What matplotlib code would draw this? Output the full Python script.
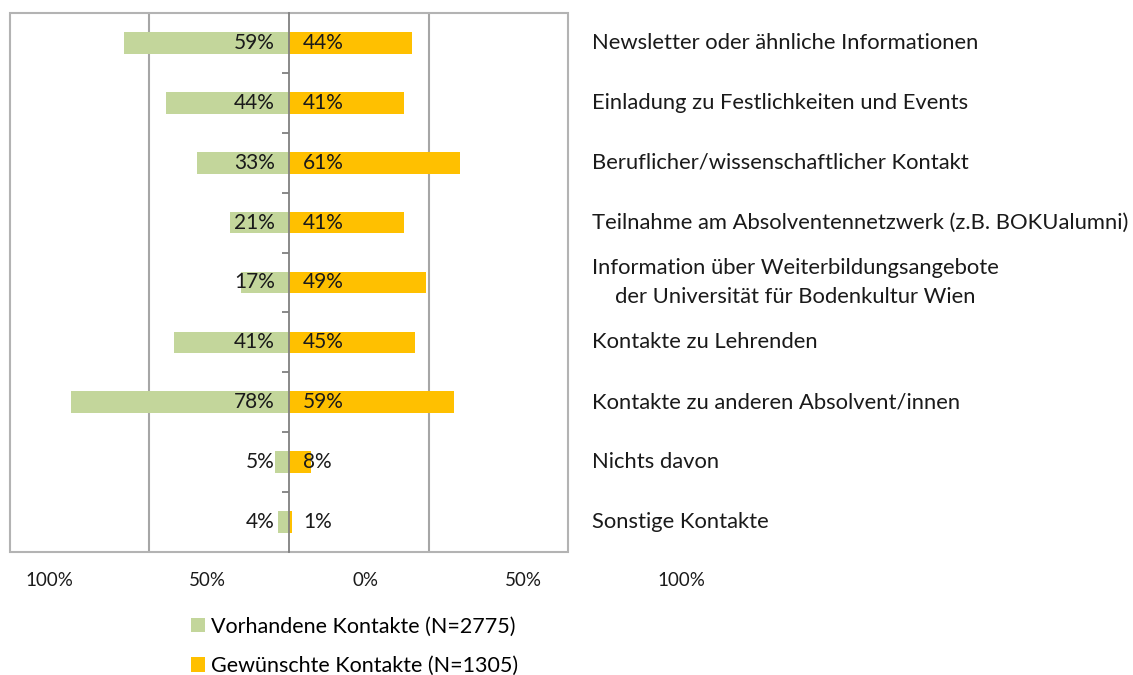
import matplotlib
matplotlib.use("Agg")
import matplotlib.pyplot as plt
import matplotlib.transforms as mtransforms
from matplotlib.patches import Rectangle, Patch

plt.rcParams['font.family'] = ['Lato', 'DejaVu Sans']

# Daten (von oben nach unten)
categories = [
    'Newsletter oder ähnliche Informationen',
    'Einladung zu Festlichkeiten und Events',
    'Beruflicher/wissenschaftlicher Kontakt',
    'Teilnahme am Absolventennetzwerk (z.B. BOKUalumni)',
    'Information über Weiterbildungsangebote\nder Universität für Bodenkultur Wien',
    'Kontakte zu Lehrenden',
    'Kontakte zu anderen Absolvent/innen',
    'Nichts davon',
    'Sonstige Kontakte',
]
vorhanden = [59, 44, 33, 21, 17, 41, 78, 5, 4]
gewuenscht = [44, 41, 61, 41, 49, 45, 59, 8, 1]
tick_values = [-100, -50, 0, 50, 100]
tick_labels = ['100%', '50%', '0%', '50%', '100%']
legend_labels = ['Vorhandene Kontakte (N=2775)', 'Gewünschte Kontakte (N=1305)']

green = '#C3D69B'
orange = '#FFC000'
W, H = 1133, 675

fig = plt.figure(figsize=(W / 100, H / 100), dpi=100)
ax = fig.add_axes([10 / W, (H - 552) / H, 558 / W, 539 / H])

y = list(range(len(categories)))
ax.barh(y, [-v for v in vorhanden], height=0.36, color=green, zorder=3)
ax.barh(y, gewuenscht, height=0.36, color=orange, zorder=3)

ax.set_xlim(-99.6, 99.6)
ax.set_ylim(len(categories) - 0.5, -0.5)

# Gitterlinien bei +-50%
for xv in (-50, 50):
    ax.axvline(xv, color='#A6A6A6', lw=1.5, zorder=1)

# Rahmen
ax.add_patch(Rectangle((0, 0), 1, 1, transform=ax.transAxes, fill=False,
                       edgecolor='#B3B3B3', lw=1.5, zorder=4, clip_on=False))

# Mittelachse mit Teilstrichen zwischen den Kategorien
for s in ('top', 'right', 'bottom'):
    ax.spines[s].set_visible(False)
ax.spines['left'].set_position(('data', 0))
ax.spines['left'].set_color('#808080')
ax.spines['left'].set_linewidth(1.3)
ax.spines['left'].set_zorder(5)
ax.set_yticks([i - 0.5 for i in range(len(categories) + 1)])
ax.set_yticklabels([])
ax.tick_params(axis='y', direction='out', length=5, width=1.3, color='#808080')
ax.set_xticks([])

# Datenbeschriftungen
off_l = mtransforms.offset_copy(ax.transData, fig=fig, x=-14, y=0, units='dots')
off_r = mtransforms.offset_copy(ax.transData, fig=fig, x=14, y=0, units='dots')
for i in y:
    ax.text(0, i, f'{vorhanden[i]}%', transform=off_l, ha='right', va='center',
            fontsize=15, color='#1a1a1a', zorder=6)
    ax.text(0, i, f'{gewuenscht[i]}%', transform=off_r, ha='left', va='center',
            fontsize=15, color='#1a1a1a', zorder=6)

# Kategorien rechts
lab_tr = mtransforms.blended_transform_factory(fig.transFigure, ax.transData)
for i, c in enumerate(categories):
    ax.text(592 / W, i, c, transform=lab_tr, ha='left', va='center',
            multialignment='center', fontsize=15.8, color='#1a1a1a',
            linespacing=1.55)

# Achsenbeschriftung unten (in Excel gegenüber der Achse verschoben)
tax = fig.add_axes([49 / W, (H - 569) / H, 632 / W, 0.001])
tax.set_xlim(-100, 100)
tax.set_xticks(tick_values)
tax.set_xticklabels(tick_labels, fontsize=13.5, color='#1a1a1a')
tax.tick_params(axis='x', length=0, pad=2)
tax.set_yticks([])
for s in tax.spines.values():
    s.set_visible(False)

# Legende
handles = [Patch(facecolor=green, edgecolor='none'),
           Patch(facecolor=orange, edgecolor='none')]
fig.legend(handles, legend_labels, loc='upper left',
           bbox_to_anchor=(182 / W, (H - 608) / H), frameon=False,
           fontsize=15.5, handlelength=0.65, handleheight=0.65,
           handletextpad=0.3, labelspacing=0.9, borderaxespad=0)

fig.savefig('out.png', dpi=100)
